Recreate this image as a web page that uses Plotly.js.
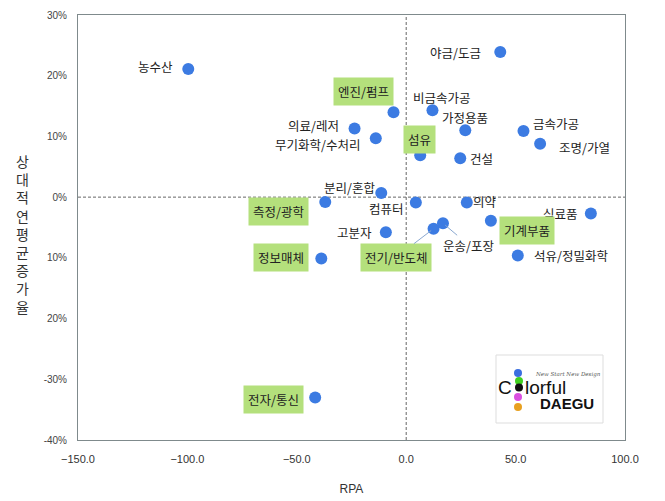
<!DOCTYPE html>
<html>
<head>
<meta charset="utf-8">
<script src="https://cdn.plot.ly/plotly-3.0.1.min.js"></script>
<style>html,body{margin:0;padding:0;background:#fff;}#chart{width:665px;height:501px;}</style>
</head>
<body>
<div id="chart"></div>
<script>
// ---- data ----
const industries = ['농수산','야금/도금','엔진/펌프','비금속가공','가정용품','금속가공','조명/가열','의료/레저','무기화학/수처리','섬유','건설','분리/혼합','측정/광학','컴퓨터','의약','식료품','기계부품','고분자','전기/반도체','운송/포장','석유/정밀화학','정보매체','전자/통신'];
const rpa = [-99.6, 43.0, -5.8, 12.0, 27.0, 53.6, 61.2, -23.6, -13.9, 6.4, 24.7, -11.4, -37.0, 4.4, 27.7, 84.4, 38.7, -9.3, 12.5, 16.8, 51.0, -38.8, -41.6];
const growth = [21.1, 23.9, 14.0, 14.3, 11.0, 10.9, 8.8, 11.3, 9.7, 6.9, 6.4, 0.7, -0.8, -0.9, -0.9, -2.7, -3.9, -5.8, -5.2, -4.3, -9.6, -10.1, -33.0];
const highlighted = ['엔진/펌프','섬유','측정/광학','기계부품','전기/반도체','정보매체','전자/통신'];
const yTickVals = [30, 20, 10, 0, -10, -20, -30, -40];
const yTickText = ['30%','20%','10%','0%','10%','20%','-30%','-40%'];
const xTickVals = [-150, -100, -50, 0, 50, 100];

// ---- label placement (pixels, style only) ----
const labelShift = {
  '농수산':[-33,3], '야금/도금':[-45,0], '엔진/펌프':[-30,21], '비금속가공':[10,13],
  '가정용품':[0,13], '금속가공':[33,7], '조명/가열':[44,-4], '의료/레저':[-41,3],
  '무기화학/수처리':[-58,-6], '섬유':[-1,16], '건설':[21,0], '분리/혼합':[-32,5],
  '측정/광학':[-47,-9], '컴퓨터':[-29,-6], '의약':[18,1], '식료품':[-30,0],
  '기계부품':[36,-10], '고분자':[-31,0], '석유/정밀화학':[53,0], '정보매체':[-40,1],
  '전자/통신':[-42,-2]
};
const leader = { '전기/반도체':[-38,29], '운송/포장':[26,22] };

const KR = '"Noto Sans CJK KR", "Noto Sans", sans-serif';
const W = 665, H = 501, ML = 78, MR = 40, MT = 15, MB = 61;
const PW = W - ML - MR, PH = H - MT - MB;
const px = x => (x - ML) / PW;
const py = y => (H - MB - y) / PH;

const annotations = [];
industries.forEach((name, i) => {
  const hl = highlighted.includes(name);
  const base = {
    x: rpa[i], y: growth[i], xref: 'x', yref: 'y', text: name,
    xanchor: 'center', yanchor: 'middle',
    font: {family: KR, size: 12.5, color: '#222'},
    bgcolor: hl ? '#B4E07C' : 'rgba(0,0,0,0)', borderpad: hl ? 4 : 0
  };
  if (leader[name]) {
    annotations.push(Object.assign(base, {
      showarrow: true, arrowhead: 0, arrowwidth: 1, arrowcolor: '#8AA8D0',
      ax: leader[name][0], ay: leader[name][1], standoff: 3
    }));
  } else {
    const s = labelShift[name];
    annotations.push(Object.assign(base, {showarrow: false, xshift: s[0], yshift: s[1]}));
  }
});

// y-axis title (stacked characters)
annotations.push({
  xref: 'paper', yref: 'paper', x: px(22), y: py(234), xanchor: 'center', yanchor: 'middle', showarrow: false,
  text: '상<br>대<br>적<br>연<br>평<br>균<br>증<br>가<br>율',
  font: {family: KR, size: 14, color: '#333'}
});

// logo texts
const LOGO_FONT = '"Liberation Sans", Arial, sans-serif';
annotations.push({xref:'paper', yref:'paper', x: px(568), y: py(374), xanchor:'center', yanchor:'middle', showarrow:false,
  text:'<i>New Start New Design</i>', font:{family:'"DejaVu Serif", serif', size:5.5, color:'#555'}});
annotations.push({xref:'paper', yref:'paper', x: px(514), y: py(387), xanchor:'right', yanchor:'middle', showarrow:false,
  text:'C', font:{family: LOGO_FONT, size:19, color:'#111'}});
annotations.push({xref:'paper', yref:'paper', x: px(523), y: py(387), xanchor:'left', yanchor:'middle', showarrow:false,
  text:'lorful', font:{family: LOGO_FONT, size:19, color:'#111'}});
annotations.push({xref:'paper', yref:'paper', x: px(567), y: py(403), xanchor:'center', yanchor:'middle', showarrow:false,
  text:'<b>DAEGU</b>', font:{family: LOGO_FONT, size:15, color:'#111'}});

const circ = (cx, cy, r, col) => ({type:'circle', xref:'paper', yref:'paper',
  x0: px(cx - r), x1: px(cx + r), y0: py(cy + r), y1: py(cy - r),
  fillcolor: col, line:{width:0}, layer:'above'});

const shapes = [
  {type:'line', xref:'x', yref:'paper', x0:0, x1:0, y0:0, y1:1, line:{color:'#666', width:1, dash:'3px,2px'}, layer:'below'},
  {type:'line', xref:'paper', yref:'y', x0:0, x1:1, y0:0, y1:0, line:{color:'#666', width:1, dash:'3px,2px'}, layer:'below'},
  {type:'rect', xref:'paper', yref:'paper', x0:px(496), x1:px(603), y0:py(423), y1:py(355),
   fillcolor:'#fff', line:{color:'#ddd', width:1}, layer:'above'},
  circ(518, 373, 4, '#3B6FE0'),
  circ(519, 381, 4, '#40D020'),
  circ(519, 387.5, 4, '#111'),
  circ(518, 397, 4, '#D94FE0'),
  circ(518, 407, 4, '#E8A020')
];

const trace = {
  type: 'scatter', mode: 'markers', x: rpa, y: growth, text: industries,
  marker: {color: '#3C7BE2', size: 12, line: {width: 0}},
  hoverinfo: 'text', cliponaxis: false
};

const layout = {
  width: W, height: H, margin: {l: ML, r: MR, t: MT, b: MB},
  paper_bgcolor: '#fff', plot_bgcolor: '#fff', showlegend: false,
  xaxis: {
    range: [-150, 100], tickvals: xTickVals, tickformat: '.1f',
    showgrid: false, zeroline: false, showline: true, mirror: true,
    linecolor: '#7F8A8C', linewidth: 1, ticks: '', ticklen: 0, ticklabelstandoff: 9,
    tickfont: {family: '"Liberation Sans", Arial, sans-serif', size: 11, color: '#333'},
    title: {text: 'RPA', font: {family: '"Liberation Sans", Arial, sans-serif', size: 12, color: '#333'}, standoff: 20}
  },
  yaxis: {
    range: [-40, 30], tickvals: yTickVals, ticktext: yTickText,
    showgrid: false, zeroline: false, showline: true, mirror: true,
    linecolor: '#7F8A8C', linewidth: 1, ticks: '', ticklen: 0, ticklabelstandoff: 8,
    tickfont: {family: '"Liberation Sans", Arial, sans-serif', size: 10, color: '#444'}
  },
  annotations: annotations,
  shapes: shapes
};

Plotly.newPlot('chart', [trace], layout, {displayModeBar: false, staticPlot: true});
</script>
</body>
</html>
